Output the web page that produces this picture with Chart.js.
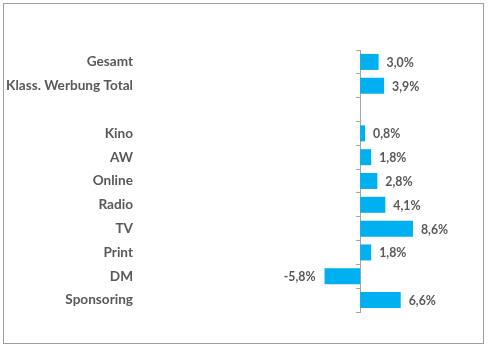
<!DOCTYPE html>
<html>
<head>
<meta charset="utf-8">
<script src="https://cdn.jsdelivr.net/npm/chart.js@4/dist/chart.umd.min.js"></script>
<style>
  html, body { margin: 0; padding: 0; background: #fff; }
  #wrap { position: relative; width: 488px; height: 347px; }
  #frame { position: absolute; left: 3px; top: 3px; width: 479px; height: 339px; border: 1px solid #a0a0a0; }
  #myChart { position: absolute; left: 0; top: 0; }
</style>
</head>
<body>
<div id="wrap">
  <div id="frame"></div>
  <canvas id="myChart" width="488" height="347"></canvas>
</div>
<script>
  var categories = ["Gesamt", "Klass. Werbung Total", "", "Kino", "AW", "Online", "Radio", "TV", "Print", "DM", "Sponsoring"];
  var changeValues = [3.0, 3.9, null, 0.8, 1.8, 2.8, 4.1, 8.6, 1.8, -5.8, 6.6];
  var barColor = "#00B0F0";
  var textColor = "#595959";
  var axisColor = "#a6a6a6";

  // value labels next to the bars, German number format
  var valueLabels = {
    id: "valueLabels",
    afterDatasetsDraw: function (chart) {
      var ctx = chart.ctx;
      var meta = chart.getDatasetMeta(0);
      ctx.save();
      ctx.font = "bold 12.3px Lato";
      ctx.fillStyle = textColor;
      ctx.textBaseline = "middle";
      meta.data.forEach(function (bar, i) {
        var v = changeValues[i];
        if (v === null) return;
        var txt = v.toFixed(1).replace(".", ",") + "%";
        if (v >= 0) {
          ctx.textAlign = "left";
          ctx.fillText(txt, bar.x + 8, bar.y + 1);
        } else {
          ctx.textAlign = "right";
          ctx.fillText(txt, bar.x - 9, bar.y + 1);
        }
      });
      ctx.restore();
    }
  };

  new Chart("myChart", {
    type: "bar",
    data: {
      labels: categories,
      datasets: [{
        data: changeValues,
        backgroundColor: barColor,
        barPercentage: 0.84,
        categoryPercentage: 0.8
      }]
    },
    options: {
      indexAxis: "y",
      responsive: false,
      animation: false,
      layout: { padding: { top: 50, bottom: 35, left: 0, right: 5 } },
      plugins: {
        legend: { display: false },
        tooltip: { enabled: false }
      },
      scales: {
        x: { display: false, min: -36, max: 20 },
        y: {
          grid: { display: false, drawTicks: false },
          border: { display: false },
          ticks: {
            padding: 6,
            color: textColor,
            font: { family: "Lato", size: 13.6, weight: "bold" }
          },
          afterFit: function (scale) { scale.width = 139; }
        },
        y2: {
          type: "category",
          axis: "y",
          position: { x: 0 },
          offset: true,
          grid: { offset: true, drawOnChartArea: false, drawTicks: true, tickLength: 4, color: axisColor },
          border: { display: true, color: axisColor, width: 1 },
          ticks: { display: false }
        }
      }
    },
    plugins: [valueLabels]
  });
</script>
</body>
</html>
